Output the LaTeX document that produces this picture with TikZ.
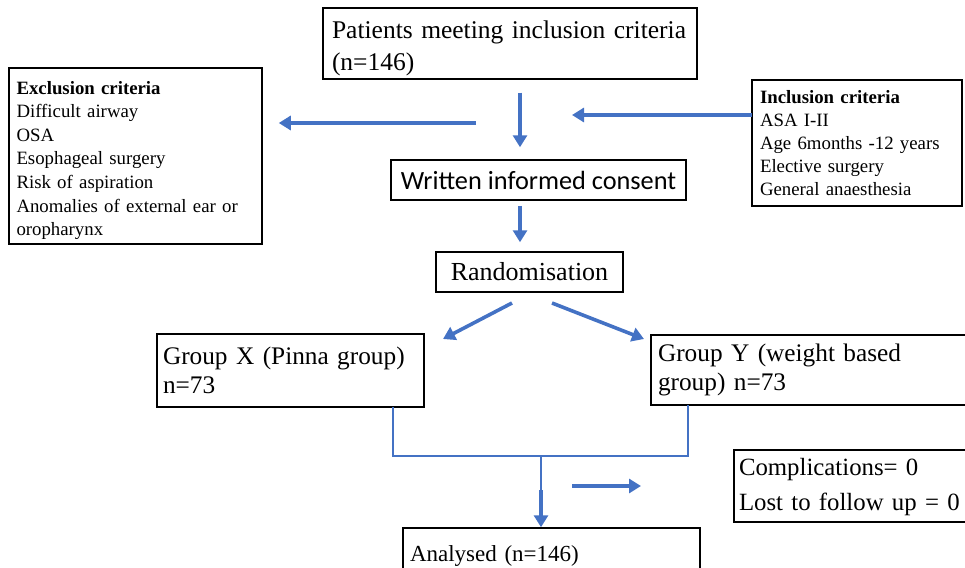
\documentclass[tikz,border=0pt]{standalone}
\usepackage{fontspec}
\setmainfont{Liberation Serif}
\newfontfamily\calib{Carlito}
\usetikzlibrary{arrows.meta}
\definecolor{arblue}{HTML}{4472C4}
\begin{document}
\begin{tikzpicture}[x=1pt,y=-1pt,
  box/.style={draw=black,line width=1.5pt,inner sep=0pt,align=left,anchor=center},
  arr/.style={draw=arblue,line width=3.6pt,-{Triangle[length=12pt,width=14pt]}},
  conn/.style={draw=arblue,line width=2.8pt}]
\useasboundingbox (0,0) rectangle (965,567);
\clip (0,0) rectangle (965,567);
% boxes
\node[box,minimum width=374pt,minimum height=71pt,text width=356pt,font=\fontsize{25.5}{32}\selectfont] (top) at (510,43.5)
  {\rule{0pt}{28pt}Patients meeting inclusion criteria\\(n=146)};
\node[box,minimum width=253pt,minimum height=176pt,text width=238pt,font=\fontsize{18.8}{23.6}\selectfont] (excl) at (135.5,156)
  {\rule{0pt}{22pt}\textbf{Exclusion criteria}\\Difficult airway\\OSA\\Esophageal surgery\\Risk of aspiration\\Anomalies of external ear or\\oropharynx};
\node[box,minimum width=210pt,minimum height=126pt,text width=194pt,font=\fontsize{18.8}{23}\selectfont] (incl) at (857,143)
  {\textbf{Inclusion criteria}\\ASA I-II\\Age 6months -12 years\\Elective surgery\\General anaesthesia};
\node[box,minimum width=295pt,minimum height=40pt,align=center,font=\calib\fontsize{26.3}{30}\selectfont] (cons) at (538.5,180)
  {Written informed consent};
\node[box,minimum width=187pt,minimum height=40pt,align=center,font=\fontsize{26}{30}\selectfont] (rand) at (529.5,272)
  {Randomisation};
\node[box,minimum width=267pt,minimum height=73pt,text width=255pt,font=\fontsize{25.3}{29.5}\selectfont] (gx) at (290.5,370.5)
  {Group X (Pinna group)\\n=73};
\node[box,minimum width=318pt,minimum height=70pt,text width=304pt,font=\fontsize{25.3}{29.5}\selectfont] (gy) at (810,370)
  {Group Y (weight based\\group) n=73};
\node[box,minimum width=236pt,minimum height=72pt,text width=226pt,font=\fontsize{24.8}{35}\selectfont] (comp) at (852,486)
  {\rule{0pt}{20pt}Complications= 0\\Lost to follow up = 0};
\node[box,minimum width=297pt,minimum height=56pt,text width=283pt,font=\fontsize{23}{29}\selectfont] (anal) at (551.5,556)
  {Analysed (n=146)\\[12pt]};
% coordinates
\coordinate (exS) at (476,123);
\coordinate (inS) at (752,115);
\coordinate (inE) at (572,115);
\coordinate (dlS) at (512,303);
\coordinate (dlE) at (443,339);
\coordinate (drS) at (552,303);
\coordinate (drE) at (644,339);
\coordinate (gxB) at (393,407);
\coordinate (gyB) at (688,405);
\coordinate (jn) at (541,456);
\coordinate (raS) at (572,486);
\coordinate (raE) at (641,486);
% arrows
\draw[arr,shorten <=13pt,shorten >=12pt] (top.south -| 520,0) -- (cons.north -| 520,0);
\draw[arr,shorten >=16pt] (exS) -- (excl.east |- exS);
\draw[arr] (inS) -- (inE);
\draw[arr,shorten <=5pt,shorten >=9pt] (cons.south -| 520,0) -- (rand.north -| 520,0);
\draw[arr] (dlS) -- (dlE);
\draw[arr] (drS) -- (drE);
\draw[conn] (gxB) -- (gxB |- jn) -- (gyB |- jn) -- (gyB);
\draw[conn] (jn) -- ++(0,36);
\draw[arr,line width=3.2pt] (541,490) -- (anal.north -| jn);
\draw[arr] (raS) -- (raE);
\end{tikzpicture}
\end{document}
